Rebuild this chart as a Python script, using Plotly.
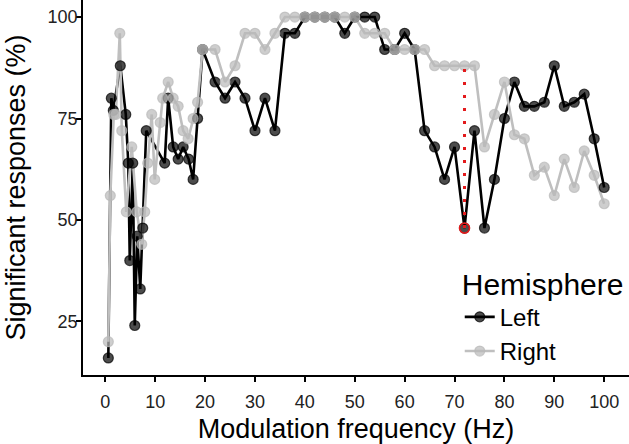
import plotly.graph_objects as go

# ---------------- data ----------------
upper_freq = list(range(22, 101, 2))

left_freq_low = [0.6, 1.2, 1.6, 3.0, 4.1, 4.6, 4.9, 5.5, 5.9, 6.4, 7.0, 7.5, 8.2,
                 11.9, 12.6, 13.6, 14.6, 15.6, 16.7, 17.6, 18.5, 19.5]
left_pct_low = [16, 80, 77, 88, 76, 64, 40, 64, 24, 46, 33, 48, 72,
                64, 80, 68, 65, 68, 65, 60, 75, 92]
left_pct_up = [84, 80, 84, 80, 72, 80, 72, 96, 96, 100, 100, 100, 100, 96, 100, 100,
               100, 92, 92, 96, 92, 72, 68, 60, 68, 48, 72, 48, 60, 75, 84, 78, 78,
               79, 88, 78, 79, 81, 70, 58]

right_freq_low = [0.6, 1.0, 1.7, 2.1, 2.9, 3.3, 4.2, 5.3, 6.3, 7.3, 7.9, 8.5, 9.3,
                  9.9, 11.0, 11.5, 12.6, 13.6, 14.6, 15.6, 16.6, 17.6, 18.5, 19.5]
right_pct_low = [20, 56, 76, 76, 96, 72, 52, 68, 52, 44, 52, 64, 76,
                 60, 74, 80, 84, 80, 78, 72, 70, 75, 79, 92]
right_pct_up = [92, 84, 88, 96, 96, 92, 96, 100, 100, 100, 100, 100, 100, 100, 100, 96,
                96, 96, 92, 92, 92, 92, 88, 88, 88, 88, 88, 68, 76, 84, 71, 70, 61, 63,
                56, 65, 58, 67, 61, 54]

left_freq = left_freq_low + upper_freq
left_pct = left_pct_low + left_pct_up
right_freq = right_freq_low + upper_freq
right_pct = right_pct_low + right_pct_up

highlight_freq = 72
x_ticks = [0, 10, 20, 30, 40, 50, 60, 70, 80, 90, 100]
y_ticks = [25, 50, 75, 100]

# ---------------- styling ----------------
FONT = "Liberation Sans, Arial, sans-serif"
BLACK_LINE = "#000000"
BLACK_PT = "rgba(0,0,0,0.7)"
GREY_LINE = "#bfbfbf"
GREY_PT = "rgba(185,185,185,0.7)"
RED = "#e31a1c"

fig = go.Figure()

# lines first (as ggplot: lines layer below points layer)
fig.add_trace(go.Scatter(x=left_freq, y=left_pct, mode="lines",
                         line=dict(color=BLACK_LINE, width=2.6),
                         showlegend=False, hoverinfo="skip"))
fig.add_trace(go.Scatter(x=right_freq, y=right_pct, mode="lines",
                         line=dict(color=GREY_LINE, width=2.6),
                         showlegend=False, hoverinfo="skip"))
fig.add_trace(go.Scatter(x=left_freq, y=left_pct, mode="markers",
                         marker=dict(size=10, color=BLACK_PT,
                                     line=dict(color=BLACK_PT, width=1.2)),
                         showlegend=False))
fig.add_trace(go.Scatter(x=right_freq, y=right_pct, mode="markers",
                         marker=dict(size=10, color=GREY_PT,
                                     line=dict(color=GREY_PT, width=1.2)),
                         showlegend=False))

# highlighted difference at 72 Hz
hl_left = left_pct[left_freq.index(highlight_freq)]
hl_right = right_pct[right_freq.index(highlight_freq)]
fig.add_trace(go.Scatter(x=[highlight_freq, highlight_freq], y=[hl_left, hl_right],
                         mode="lines", line=dict(color=RED, width=3, dash="3px,10px"),
                         showlegend=False, hoverinfo="skip"))
fig.add_trace(go.Scatter(x=[highlight_freq], y=[hl_left], mode="markers",
                         marker=dict(size=10, color="rgba(0,0,0,0)",
                                     line=dict(color=RED, width=1.6)),
                         showlegend=False, hoverinfo="skip"))

# legend-only entries
fig.add_trace(go.Scatter(x=[None], y=[None], mode="lines+markers", name="Left",
                         line=dict(color=BLACK_LINE, width=2.6),
                         marker=dict(size=10, color=BLACK_PT,
                                     line=dict(color=BLACK_PT, width=1.2)),
                         legendrank=1))
fig.add_trace(go.Scatter(x=[None], y=[None], mode="lines+markers", name="Right",
                         line=dict(color=GREY_LINE, width=2.6),
                         marker=dict(size=10, color=GREY_PT,
                                     line=dict(color=GREY_PT, width=1.2)),
                         legendrank=2))

axis_common = dict(showgrid=False, zeroline=False, showline=True,
                   linecolor="black", linewidth=1.8, ticks="outside",
                   ticklen=5, tickwidth=1.6, tickcolor="black",
                   tickfont=dict(family=FONT, size=18, color="#222222"),
                   mirror=False)

fig.update_layout(
    width=629, height=444, autosize=False,
    margin=dict(l=83, r=0, t=0, b=69, pad=0),
    paper_bgcolor="white", plot_bgcolor="white",
    font=dict(family=FONT, color="black"),
    xaxis=dict(range=[-4.475, 104.975], tickvals=x_ticks,
               title=dict(text="Modulation frequency (Hz)",
                          font=dict(family=FONT, size=27, color="black"), standoff=12),
               ticklabelstandoff=4, **axis_common),
    yaxis=dict(range=[11.8, 104.2], tickvals=y_ticks,
               title=dict(text="Significant responses (%)",
                          font=dict(family=FONT, size=27, color="black"), standoff=14),
               ticklabelstandoff=-5, **axis_common),
    legend=dict(x=0.69, y=0.318, xanchor="left", yanchor="top",
                bgcolor="rgba(255,255,255,0)", borderwidth=0,
                title=dict(text="Hemisphere", font=dict(family=FONT, size=30, color="black")),
                font=dict(family=FONT, size=24, color="black"),
                itemwidth=30, tracegroupgap=0),
)

fig.write_html("out.html", config={"displayModeBar": False},
               post_script="document.body.style.margin='0';document.body.style.padding='0';")
